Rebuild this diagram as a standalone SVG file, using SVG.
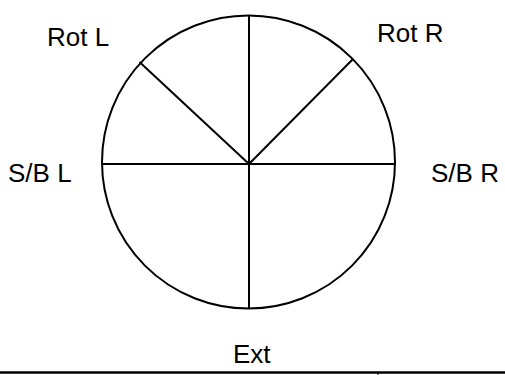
<svg xmlns="http://www.w3.org/2000/svg" width="505" height="375" viewBox="0 0 505 375">
<style>
.ln{stroke:#000;stroke-width:2;fill:none}
.lb{font-family:"Liberation Sans",Arial,sans-serif;font-size:26px;fill:#000}
</style>
<rect width="505" height="375" fill="#fff"/>
<g id="wheel">
<circle class="ln" cx="248.5" cy="162" r="146.5"/>
</g>
<g id="connectors">
<line class="ln" x1="249" y1="15.5" x2="249" y2="308.5"/>
<line class="ln" x1="102" y1="164" x2="395" y2="164"/>
<line class="ln" x1="249" y1="164" x2="139.5" y2="62"/>
<line class="ln" x1="249" y1="164" x2="353" y2="59"/>
</g>
<g id="rotL"><text class="lb" x="47" y="46">Rot L</text></g>
<g id="rotR"><text class="lb" x="377" y="42">Rot R</text></g>
<g id="sbL"><text class="lb" x="8" y="182">S/B L</text></g>
<g id="sbR"><text class="lb" x="431" y="182">S/B R</text></g>
<g id="ext"><text class="lb" x="233" y="363">Ext</text></g>
<g id="baseline">
<line x1="0" y1="372.5" x2="505" y2="372.5" stroke="#000" stroke-width="2.5"/>
<line x1="378" y1="372" x2="378" y2="375" stroke="#000" stroke-width="1"/>
</g>
</svg>
